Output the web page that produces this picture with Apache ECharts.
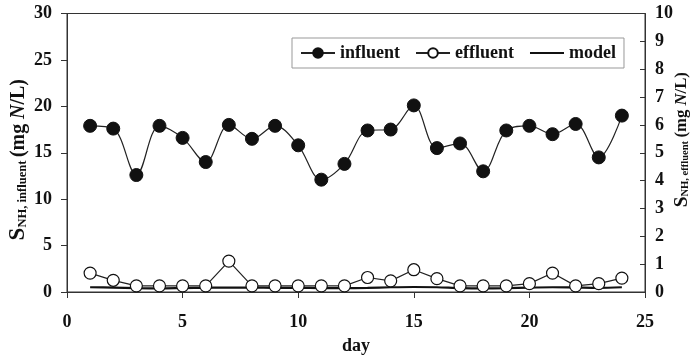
<!DOCTYPE html>
<html><head><meta charset="utf-8">
<script src="https://cdn.jsdelivr.net/npm/echarts@6/dist/echarts.min.js"></script>
<style>html,body{margin:0;padding:0;background:#fff}#c{width:690px;height:361px}</style>
</head><body><div id="c"></div>
<script>
const days = [1,2,3,4,5,6,7,8,9,10,11,12,13,14,15,16,17,18,19,20,21,22,23,24];
const influent = [17.9,17.6,12.6,17.9,16.6,14.0,18.0,16.5,17.9,15.8,12.1,13.8,17.4,17.5,20.1,15.5,16.0,13.0,17.4,17.9,17.0,18.1,14.5,19.0];
const effluent = [0.68,0.42,0.22,0.22,0.22,0.22,1.11,0.22,0.22,0.22,0.22,0.22,0.52,0.40,0.80,0.48,0.22,0.22,0.22,0.30,0.68,0.22,0.30,0.50];
const model = [0.17,0.16,0.14,0.13,0.14,0.15,0.16,0.16,0.15,0.15,0.14,0.14,0.15,0.17,0.18,0.17,0.14,0.13,0.14,0.16,0.17,0.16,0.15,0.17];
const xTicks = [0,5,10,15,20,25];
const leftTicks = [0,5,10,15,20,25,30];
const rightTicks = [0,1,2,3,4,5,6,7,8,9,10];

const FONT = '"Liberation Serif", "Times New Roman", serif';
const pair = (a) => days.map((d,i)=>[d,a[i]]);
function rich(sc){
  return {
    s:{fontFamily:FONT,fontWeight:'bold',fontSize:22*sc,color:'#111'},
    sub:{fontFamily:FONT,fontWeight:'bold',fontSize:12*sc,color:'#111',padding:[8*sc,0,0,0]},
    t:{fontFamily:FONT,fontWeight:'bold',fontSize:19*sc,color:'#111'},
    i:{fontFamily:FONT,fontWeight:'bold',fontStyle:'italic',fontSize:19*sc,color:'#111'}
  };
}
const chart = echarts.init(document.getElementById('c'), null, {renderer:'canvas'});
chart.setOption({
  animation:false,
  backgroundColor:'#fff',
  grid:{left:67,right:45,top:13.5,bottom:69,show:true,borderColor:'#333',borderWidth:1,
    containLabel:false,outerBoundsMode:'none'},
  legend:{
    top:38,left:292,
    data:['influent','effluent',{name:'model',itemStyle:{opacity:0}}],
    borderColor:'#999',borderWidth:1,padding:[6,8,6,8],
    itemWidth:34,itemHeight:12,itemGap:15,
    textStyle:{fontFamily:FONT,fontWeight:'bold',fontSize:18,color:'#111'}
  },
  xAxis:{
    type:'value',min:0,max:25,interval:5,
    name:'day',nameLocation:'middle',nameGap:45,nameMoveOverlap:false,
    nameTextStyle:{fontFamily:FONT,fontWeight:'bold',fontSize:18,color:'#111'},
    axisLine:{lineStyle:{color:'#333',width:1}},
    axisTick:{inside:false,length:6,lineStyle:{color:'#333'}},
    axisLabel:{margin:21,fontFamily:FONT,fontWeight:'bold',fontSize:18,color:'#111',
      formatter:(v)=>xTicks.includes(v)?String(v):''},
    splitLine:{show:false}
  },
  yAxis:[{
    type:'value',min:0,max:30,interval:5,position:'left',
    name:'{s|S}{sub|NH, influent} {t|(mg }{i|N}{t|/L)}',
    nameLocation:'middle',nameRotate:90,nameGap:37,nameMoveOverlap:false,
    nameTextStyle:{rich:rich(1.05),padding:[0,14,0,0]},
    axisLine:{show:true,lineStyle:{color:'#333',width:1}},
    axisTick:{show:true,inside:false,length:6,lineStyle:{color:'#333'}},
    axisLabel:{margin:15,fontFamily:FONT,fontWeight:'bold',fontSize:18,color:'#111',
      formatter:(v)=>leftTicks.includes(v)?String(v):''},
    splitLine:{show:false}
  },{
    type:'value',min:0,max:10,interval:1,position:'right',
    name:'{s|S}{sub|NH, effluent} {t|(mg }{i|N}{t|/L)}',
    nameLocation:'middle',nameRotate:90,nameGap:27,nameMoveOverlap:false,
    nameTextStyle:{rich:rich(0.88),padding:[0,0,0,26]},
    axisLine:{show:true,lineStyle:{color:'#333',width:1}},
    axisTick:{show:true,inside:true,length:5,lineStyle:{color:'#333'}},
    axisLabel:{margin:10,fontFamily:FONT,fontWeight:'bold',fontSize:18,color:'#111',
      formatter:(v)=>rightTicks.includes(v)?String(v):''},
    splitLine:{show:false}
  }],
  series:[{
    name:'influent',type:'line',yAxisIndex:0,data:pair(influent),smooth:0.35,
    symbol:'circle',symbolSize:13,
    lineStyle:{color:'#222',width:1.2},
    itemStyle:{color:'#111',borderColor:'#111',borderWidth:1}
  },{
    name:'effluent',type:'line',yAxisIndex:1,data:pair(effluent),
    symbol:'circle',symbolSize:12,z:3,
    lineStyle:{color:'#222',width:1.2},
    itemStyle:{color:'#fff',borderColor:'#111',borderWidth:1.2}
  },{
    name:'model',type:'line',yAxisIndex:1,data:pair(model),smooth:0.3,
    showSymbol:false,symbol:'none',z:2,
    lineStyle:{color:'#111',width:2.2},
    itemStyle:{color:'#111'}
  }]
});
</script></body></html>
